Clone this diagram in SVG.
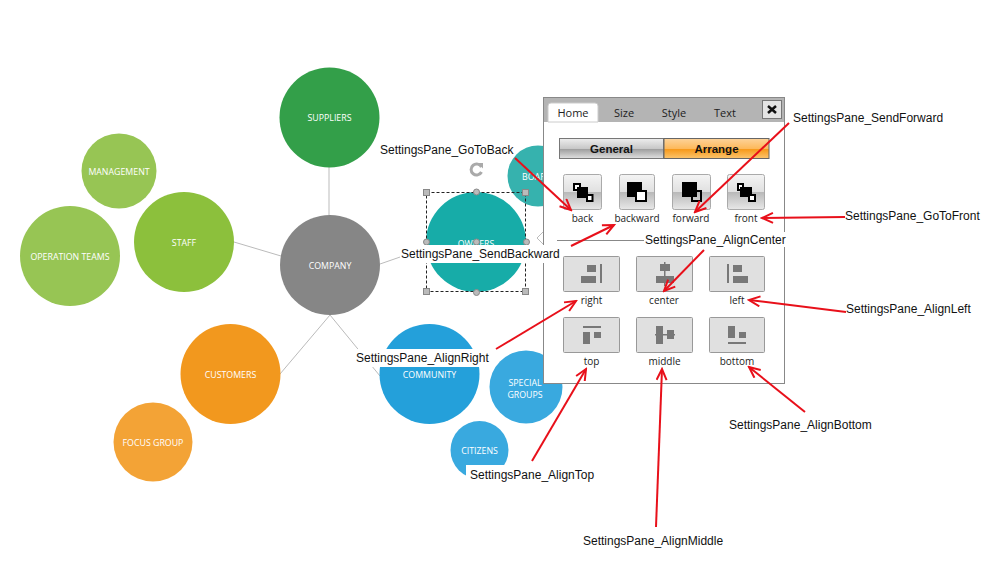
<svg xmlns="http://www.w3.org/2000/svg" width="1002" height="576" viewBox="0 0 1002 576">
<style>
text{font-family:"Liberation Sans",Arial,sans-serif}
.n{font-family:"Open Sans","Noto Sans",sans-serif;font-size:8.800px;fill:#fff;text-anchor:middle}
.lb{font-size:12px;fill:#111}
.cap{font-family:"Open Sans","Noto Sans",sans-serif;font-size:10px;fill:#222;text-anchor:middle}
.tab{font-family:"Open Sans","Noto Sans",sans-serif;font-size:11px;fill:#222;text-anchor:middle}
.link{stroke:#bbb;stroke-width:1;fill:none}
.red{stroke:#e8101a;stroke-width:2;fill:none;marker-end:url(#a)}
.btn{fill:url(#bg);stroke:#aaa}
.alg{fill:#e0e0e0;stroke:#999;stroke-width:1}
.ic{fill:#787878}
.h{fill:#bbb;stroke:#888}
.w{fill:#fff}
</style>
<defs>
<marker id="a" markerUnits="userSpaceOnUse" markerWidth="14" markerHeight="14" refX="12" refY="6" orient="auto"><path d="M1 1L12 6L1 11" fill="none" stroke="#e8101a" stroke-width="2"/></marker>
<linearGradient id="bg" x1="0" y1="0" x2="0" y2="1"><stop offset="0" stop-color="#f4f4f4"/><stop offset=".5" stop-color="#e0e0e0"/><stop offset=".5" stop-color="#b8b8b8"/><stop offset="1" stop-color="#e8e8e8"/></linearGradient>
<linearGradient id="gg" x1="0" y1="0" x2="0" y2="1"><stop offset="0" stop-color="#eee"/><stop offset=".5" stop-color="#c8c8c8"/><stop offset=".55" stop-color="#a0a0a0"/><stop offset="1" stop-color="#e0e0e0"/></linearGradient>
<linearGradient id="og" x1="0" y1="0" x2="0" y2="1"><stop offset="0" stop-color="#fdd39a"/><stop offset=".5" stop-color="#fdb95c"/><stop offset=".55" stop-color="#f79a1c"/><stop offset="1" stop-color="#fcc56e"/></linearGradient>
</defs>
<g id="links">
<path class="link" d="M329 166V216M234 242L281 256M380 264L426 248M280 374L330 315M330 315L380 376"/>
</g>
<g id="suppliers"><circle cx="329.500" cy="117.500" r="50" fill="#339f49"/><text class="n" x="329.500" y="121">SUPPLIERS</text></g>
<g id="management"><circle cx="119" cy="171" r="37.500" fill="#97c554"/><text class="n" x="119" y="175">MANAGEMENT</text></g>
<g id="staff"><circle cx="184" cy="242" r="50" fill="#8cc03c"/><text class="n" x="184" y="246">STAFF</text></g>
<g id="operation-teams"><circle cx="70" cy="256" r="50" fill="#97c554"/><text class="n" x="70" y="260">OPERATION TEAMS</text></g>
<g id="company"><circle cx="330" cy="265" r="50" fill="#868686"/><text class="n" x="330" y="269">COMPANY</text></g>
<g id="customers"><circle cx="230.500" cy="374" r="50" fill="#f2981e"/><text class="n" x="230.500" y="378">CUSTOMERS</text></g>
<g id="focus-group"><circle cx="153" cy="442" r="39.500" fill="#f3a336"/><text class="n" x="153" y="446">FOCUS GROUP</text></g>
<g id="community"><circle cx="429.500" cy="374" r="50" fill="#24a0da"/><text class="n" x="429.500" y="378">COMMUNITY</text></g>
<g id="special-groups"><circle cx="526" cy="387" r="36.500" fill="#39a9df"/><text class="n" x="525" y="386">SPECIAL</text><text class="n" x="525" y="398">GROUPS</text></g>
<g id="citizens"><circle cx="479.500" cy="450" r="29" fill="#39a9df"/><text class="n" x="479.500" y="454">CITIZENS</text></g>
<g id="board"><circle cx="538" cy="176" r="30.500" fill="#36b2ae"/><text class="n" x="537" y="180">BOARD</text></g>
<g id="owners"><circle cx="476" cy="242" r="50" fill="#17aca8"/><text class="n" x="476" y="247">OWNERS</text>
<rect x="426.500" y="192.500" width="99" height="99" fill="none" stroke="#222" stroke-dasharray="3 2"/>
<g class="h"><rect x="423.500" y="189.500" width="6" height="6"/><rect x="522.500" y="189.500" width="6" height="6"/><rect x="423.500" y="288.500" width="6" height="6"/><rect x="522.500" y="288.500" width="6" height="6"/><circle cx="476.500" cy="192" r="3"/><circle cx="476.500" cy="292.500" r="3"/><circle cx="426.500" cy="242" r="3"/><circle cx="526.500" cy="242" r="3"/><circle cx="476.500" cy="242" r="3"/></g>
<path d="M481.500 167a5.500 5.500 0 1 0 0 5" fill="none" stroke="#aaa" stroke-width="3"/><path d="M477.500 163h5.500v5.500z" fill="#aaa"/>
</g>
<g id="pane">
<rect x="543.500" y="97.500" width="241" height="286" fill="#fff" stroke="#888"/>
<rect x="544" y="98" width="240" height="24" fill="#b4b4b4"/>
<path d="M548 122V106q0-3 3-3h44q3 0 3 3V122z" fill="#fff" stroke="#ccc"/>
<text class="tab" x="573" y="117">Home</text><text class="tab" x="624" y="117">Size</text><text class="tab" x="674" y="117">Style</text><text class="tab" x="725" y="117">Text</text>
<rect x="762.500" y="100.500" width="19" height="18" fill="#e4e4e4" stroke="#777"/><path d="M768 106L776 113M776 106L768 113" stroke="#111" stroke-width="2.500"/>
<rect x="559.500" y="138.500" width="104" height="20" fill="url(#gg)" stroke="#777"/><rect x="664" y="138.500" width="105" height="20" fill="url(#og)" stroke="#666"/>
<text x="611.500" y="153" font-size="11.500" font-weight="bold" text-anchor="middle" fill="#111">General</text><text x="716.500" y="153" font-size="11.500" font-weight="bold" text-anchor="middle" fill="#111">Arrange</text>
<g id="btn-back"><rect class="btn" x="563.500" y="174.500" width="38" height="35" rx="2"/><rect x="574" y="184" width="6" height="6" fill="#fff" stroke="#000" stroke-width="2"/><rect x="577" y="187" width="11" height="11" fill="#000"/><rect x="587" y="195" width="5.500" height="6" fill="#fff" stroke="#000" stroke-width="2"/><text class="cap" x="582.500" y="222">back</text></g>
<g id="btn-backward"><rect class="btn" x="619.500" y="174.500" width="35" height="35" rx="2"/><rect x="627" y="182" width="15" height="15" fill="#000"/><rect x="636" y="191" width="10" height="10" fill="#fff" stroke="#000" stroke-width="2"/><text class="cap" x="637" y="222">backward</text></g>
<g id="btn-forward"><rect class="btn" x="672.500" y="174.500" width="38" height="35" rx="2"/><rect x="682" y="182" width="15" height="15" fill="#000"/><rect x="692" y="191" width="9" height="10" fill="none" stroke="#000" stroke-width="2"/><text class="cap" x="691" y="222">forward</text></g>
<g id="btn-front"><rect class="btn" x="727.500" y="174.500" width="37" height="35" rx="2"/><rect x="738" y="184" width="5" height="6" fill="#fff" stroke="#000" stroke-width="2"/><rect x="740" y="187" width="12" height="10" fill="#000"/><rect x="749" y="195" width="6" height="6" fill="#fff" stroke="#000" stroke-width="2"/><text class="cap" x="746" y="222">front</text></g>
<path d="M557 240.500H644" stroke="#888"/>
<g id="btn-right"><rect class="alg" x="563.500" y="256.500" width="56" height="35" rx="1"/><path class="ic" d="M587 265h9v7h-9zM581 276h15v7h-15zM600 264h2v19h-2z"/><text class="cap" x="591.500" y="304">right</text></g>
<g id="btn-center"><rect class="alg" x="636.500" y="256.500" width="56" height="35" rx="1"/><path class="ic" d="M660 264h10v7h-10zM656 276h18v7h-18zM664 262h1.500v24h-1.500z"/><text class="cap" x="664" y="304">center</text></g>
<g id="btn-left"><rect class="alg" x="709.500" y="256.500" width="55" height="35" rx="1"/><path class="ic" d="M727 264h2v19h-2zM733 265h9v7h-9zM733 276h15v7h-15z"/><text class="cap" x="737" y="304">left</text></g>
<g id="btn-top"><rect class="alg" x="563.500" y="317.500" width="56" height="35" rx="1"/><path class="ic" d="M583 326h18v2h-18zM583 332h7v12h-7zM594 332h7v6h-7z"/><text class="cap" x="591.500" y="365">top</text></g>
<g id="btn-middle"><rect class="alg" x="636.500" y="317.500" width="56" height="35" rx="1"/><path class="ic" d="M656 326h7v18h-7zM667 330h7v9h-7zM655 334h20v1.500h-20z"/><text class="cap" x="664.500" y="365">middle</text></g>
<g id="btn-bottom"><rect class="alg" x="709.500" y="317.500" width="55" height="35" rx="1"/><path class="ic" d="M728 326h7v12h-7zM739 332h7v6h-7zM728 342h18v2h-18z"/><text class="cap" x="737" y="365">bottom</text></g>
<path d="M543 232L537 238L543 244" fill="#fff" stroke="#bbb"/>
</g>
<g id="labels">
<rect class="w" x="400" y="245" width="160" height="18"/><rect class="w" x="356" y="349" width="136" height="18"/><rect class="w" x="466" y="465" width="130" height="18"/><rect class="w" x="644" y="232" width="142" height="15"/>
<text class="lb" x="380" y="154">SettingsPane_GoToBack</text>
<text class="lb" x="793" y="122">SettingsPane_SendForward</text>
<text class="lb" x="845" y="220">SettingsPane_GoToFront</text>
<text class="lb" x="645" y="244">SettingsPane_AlignCenter</text>
<text class="lb" x="401" y="258">SettingsPane_SendBackward</text>
<text class="lb" x="846" y="313">SettingsPane_AlignLeft</text>
<text class="lb" x="356" y="362">SettingsPane_AlignRight</text>
<text class="lb" x="729" y="429">SettingsPane_AlignBottom</text>
<text class="lb" x="470" y="479">SettingsPane_AlignTop</text>
<text class="lb" x="583" y="545">SettingsPane_AlignMiddle</text>
</g>
<g id="connectors">
<path class="red" d="M515 158L571 210"/>
<path class="red" d="M571 246L614 225"/>
<path class="red" d="M789 123L695 212"/>
<path class="red" d="M845 217L762 218"/>
<path class="red" d="M704 250L664 291"/>
<path class="red" d="M846 312L749 300"/>
<path class="red" d="M496 349L576 301"/>
<path class="red" d="M532 461L586 369"/>
<path class="red" d="M656 527L662 369"/>
<path class="red" d="M805 412L749 367"/>
</g>
</svg>
